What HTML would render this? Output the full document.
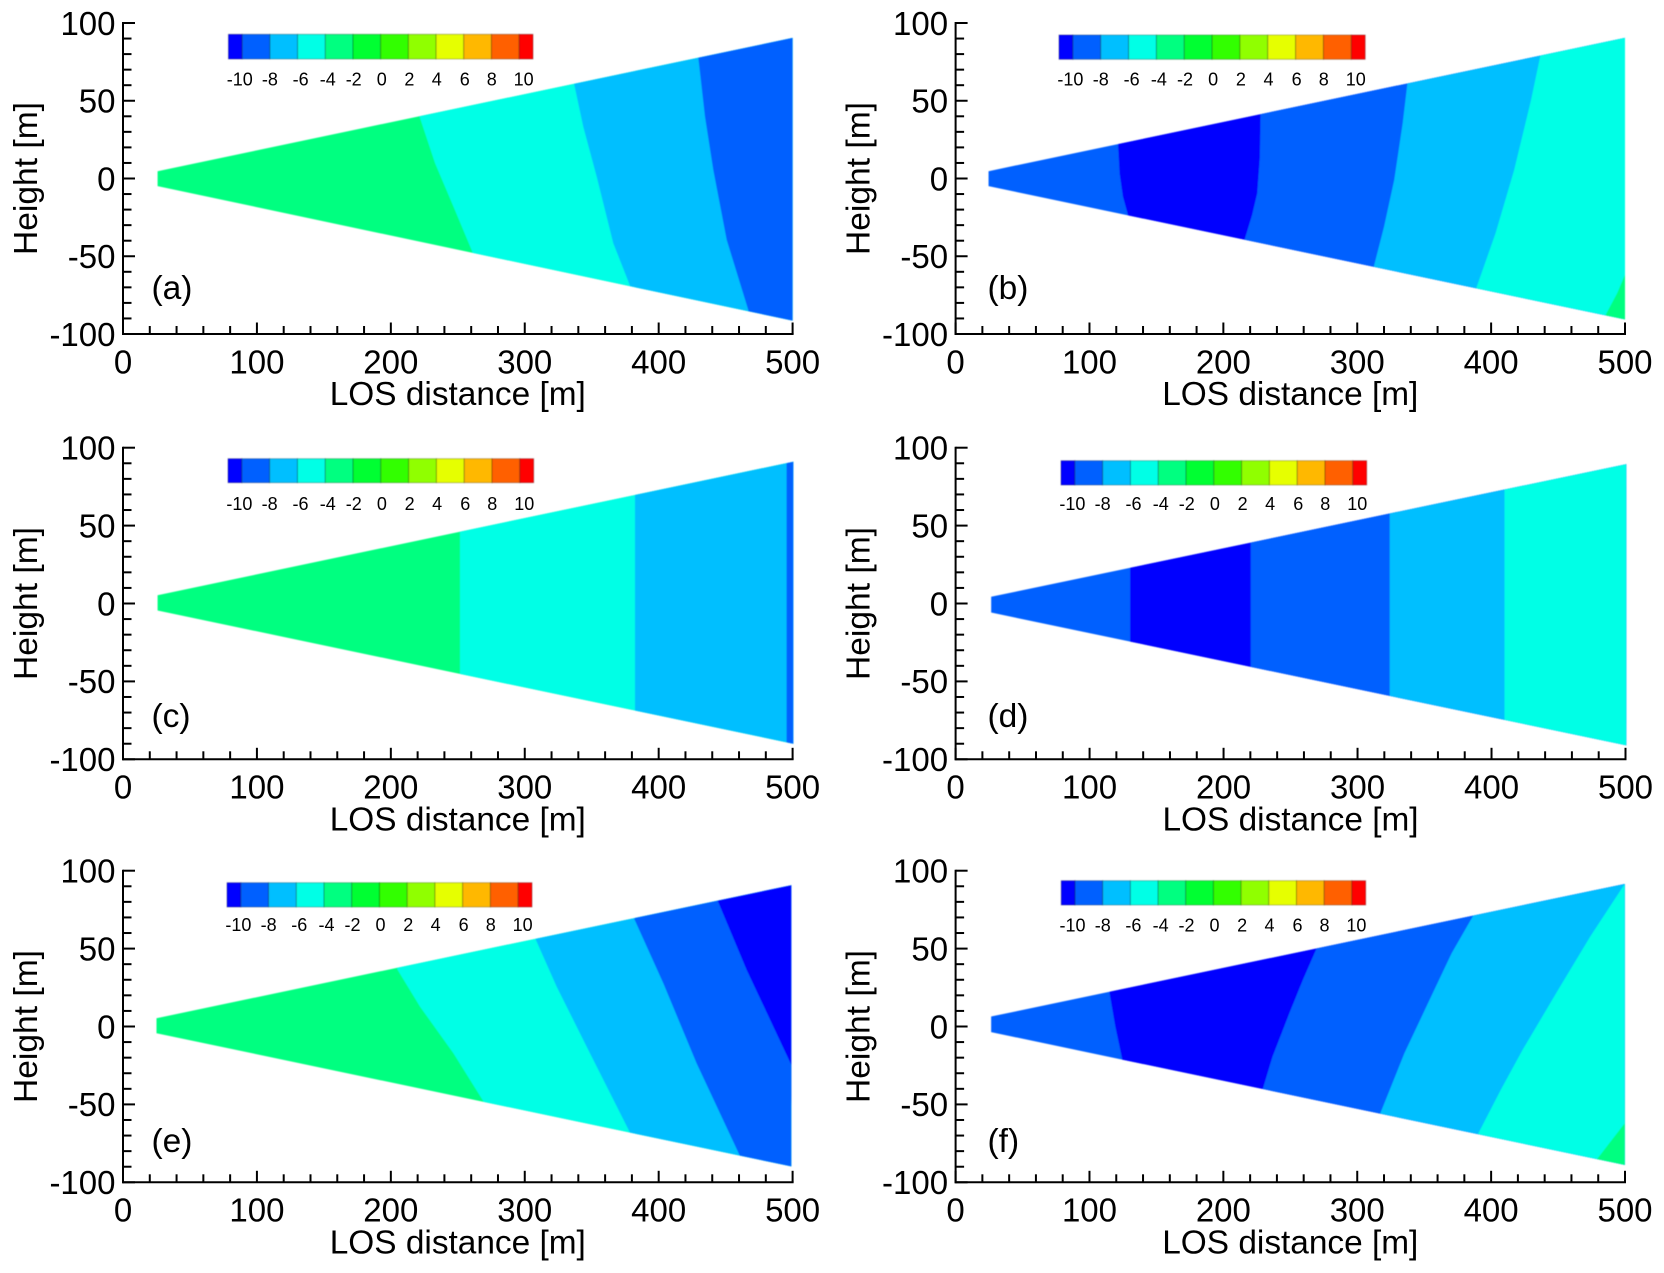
<!DOCTYPE html>
<html lang="en">
<head>
<meta charset="utf-8">
<title>LOS distance contour panels</title>
<style>
  html, body { margin: 0; padding: 0; background: #fff; }
  svg { display: block; }
  text { font-family: "Liberation Sans", sans-serif; fill: #000; }
</style>
</head>
<body>
<svg id="figure" xmlns="http://www.w3.org/2000/svg" width="1664" height="1273" viewBox="0 0 1664 1273">
  <defs>
    <filter id="soften" x="-2%" y="-2%" width="104%" height="104%"><feGaussianBlur stdDeviation="0.55"/></filter>
    <filter id="soften-bar" x="-2%" y="-10%" width="104%" height="120%"><feGaussianBlur stdDeviation="0.4"/></filter>
  </defs>
</svg>
<script>
// Axis ticks
const xMajorTicks = [0, 100, 200, 300, 400, 500];
const xMinorTicks = [20, 40, 60, 80, 120, 140, 160, 180, 220, 240, 260, 280, 320, 340, 360, 380, 420, 440, 460, 480];
const yMajorTicks = [-100, -50, 0, 50, 100];
const yMinorTicks = [-90, -80, -70, -60, -40, -30, -20, -10, 10, 20, 30, 40, 60, 70, 80, 90];

// Colour scale
const colorbarEdges = [-11, -10, -8, -6, -4, -2, 0, 2, 4, 6, 8, 10, 11];
const colorbarColors = ['#0000ff', '#0060ff', '#00bfff', '#00ffe6', '#00ff80', '#00ff30', '#30ff00', '#90ff00', '#e6ff00', '#ffb800', '#ff6000', '#ff0000'];
const colorbarLabels = [-10, -8, -6, -4, -2, 0, 2, 4, 6, 8, 10];

// Panel (a)
const aWedgeDistance = [25.8, 500];
const aWedgeTop = [4.7, 90.4];
const aWedgeBottom = [-4.9, -91.4];
const aBandValues = [-3, -5, -7, -9];
const aBoundaries = [
  [[221.3, 40.1], [233, 9.8], [246.7, -18], [260.8, -47]],
  [[336.8, 61.1], [343.7, 33.3], [353.7, 1.2], [366.1, -41.6], [378.6, -69]],
  [[429.6, 77.8], [434.6, 39.7], [440.8, 5.5], [450.8, -39.5], [467, -84.8]]
];

// Panel (b)
const bWedgeDistance = [24.6, 500];
const bWedgeTop = [4.7, 90.4];
const bWedgeBottom = [-4.9, -90.6];
const bBandValues = [-9, -10.5, -9, -7, -5, -3];
const bBoundaries = [
  [[121.3, 22.2], [122.5, 3.3], [125, -11.7], [128.6, -23]],
  [[227.8, 40.8], [227.3, 14], [225.3, -9.5], [221.5, -23.4], [216, -39]],
  [[337.4, 60.7], [333.9, 35.4], [327.6, -1], [320, -31], [312.4, -56.6]],
  [[436.7, 78.7], [429.8, 50.4], [417.2, 5.5], [403.3, -35.2], [388.9, -70.5]],
  [[500, -62], [494.2, -73.7], [485.6, -87.6]]
];

// Panel (c)
const cWedgeDistance = [25.8, 500.5];
const cWedgeTop = [5.3, 91];
const cWedgeBottom = [-4.5, -90];
const cBandValues = [-3, -5, -7, -9];
const cBoundaries = [
  [[251.6, 45.5], [251.6, -45.6]],
  [[382.3, 70], [382.3, -69]],
  [[495.5, 90.6], [495.5, -89]]
];

// Panel (d)
const dWedgeDistance = [26.5, 500.5];
const dWedgeTop = [4.3, 89.4];
const dWedgeBottom = [-5.8, -91];
const dBandValues = [-9, -10.5, -9, -7, -5];
const dBoundaries = [
  [[130.3, 23], [130.3, -24]],
  [[220.3, 38.5], [220.3, -40]],
  [[324, 57], [324, -59]],
  [[409.7, 72.7], [409.7, -74.5]]
];

// Panel (e)
const eWedgeDistance = [25, 499];
const eWedgeTop = [5.3, 90.7];
const eWedgeBottom = [-4.3, -89.8];
const eBandValues = [-3, -5, -7, -9, -10.5];
const eBoundaries = [
  [[204.8, 36.7], [221.8, 12.7], [246.7, -17.2], [269.6, -48.7]],
  [[308.1, 56], [323.8, 25.6], [346.2, -12.9], [379.1, -69]],
  [[381.8, 69], [403.5, 27.7], [428.3, -23.6], [460.7, -83.1]],
  [[444, 80.8], [465.7, 36.3], [499, -24.6]]
];

// Panel (f)
const fWedgeDistance = [26.5, 499.8];
const fWedgeTop = [6.4, 91.5];
const fWedgeBottom = [-3.6, -88.8];
const fBandValues = [-9, -10.5, -9, -7, -5, -3];
const fBoundaries = [
  [[115, 21.3], [119.3, -0.1], [124.3, -20.4]],
  [[269.5, 49.8], [259.4, 29.9], [249.3, 8.5], [236.7, -19.4], [229.6, -39.7]],
  [[386.9, 71.6], [370.5, 47], [352.8, 14.9], [335.2, -17.2], [317, -56.2]],
  [[499.8, 91.5], [474, 57.7], [450, 23.4], [423.5, -15], [407.1, -40.8], [390.2, -69]],
  [[499.8, -62.2], [489.2, -73.9], [479, -85.3]]
];

const panelSeries = [
  { id: 'a', distance: aWedgeDistance, top: aWedgeTop, bottom: aWedgeBottom, values: aBandValues, boundaries: aBoundaries },
  { id: 'b', distance: bWedgeDistance, top: bWedgeTop, bottom: bWedgeBottom, values: bBandValues, boundaries: bBoundaries },
  { id: 'c', distance: cWedgeDistance, top: cWedgeTop, bottom: cWedgeBottom, values: cBandValues, boundaries: cBoundaries },
  { id: 'd', distance: dWedgeDistance, top: dWedgeTop, bottom: dWedgeBottom, values: dBandValues, boundaries: dBoundaries },
  { id: 'e', distance: eWedgeDistance, top: eWedgeTop, bottom: eWedgeBottom, values: eBandValues, boundaries: eBoundaries },
  { id: 'f', distance: fWedgeDistance, top: fWedgeTop, bottom: fWedgeBottom, values: fBandValues, boundaries: fBoundaries }
];

// Page layout for each panel (pixels)
const panelLayout = {
  a: { left: 123, right: 792.6, top: 23, bottom: 334, barL: 228.4, barR: 533, barT: 34.3, barB: 59, barText: 85.5, tagX: 151.5, tagY: 299 },
  b: { left: 955.6, right: 1625, top: 23, bottom: 334, barL: 1059, barR: 1365.2, barT: 35, barB: 59.3, barText: 85.5, tagX: 987.5, tagY: 299 },
  c: { left: 123, right: 792.6, top: 447.7, bottom: 759.3, barL: 228, barR: 533.7, barT: 458.7, barB: 482.7, barText: 510, tagX: 151.5, tagY: 727 },
  d: { left: 955.6, right: 1625.5, top: 447.7, bottom: 759.3, barL: 1061, barR: 1366.7, barT: 460.7, barB: 485, barText: 510, tagX: 987.5, tagY: 727 },
  e: { left: 123, right: 792.6, top: 870.7, bottom: 1182.3, barL: 227, barR: 532, barT: 882.7, barB: 907, barText: 931, tagX: 151.5, tagY: 1152 },
  f: { left: 955.6, right: 1625, top: 870.7, bottom: 1182.3, barL: 1061.2, barR: 1365.7, barT: 880.7, barB: 905, barText: 931.5, tagX: 987.5, tagY: 1152 }
};
const colorbarLabelNudges = [-2.5, 0, 3, 2.5, 0.7, 1, 1, 0.7, 1, 0.3, 4.5];

const SVG_NS = 'http://www.w3.org/2000/svg';
const figure = document.getElementById('figure');
const figureDefs = figure.querySelector('defs');

function make(parent, tag, attrs) {
  const node = document.createElementNS(SVG_NS, tag);
  Object.keys(attrs).forEach(function (k) { node.setAttribute(k, attrs[k]); });
  parent.appendChild(node);
  return node;
}

function colorForValue(value) {
  for (let i = 0; i < colorbarColors.length; i++) {
    if (value >= colorbarEdges[i] && value < colorbarEdges[i + 1]) return colorbarColors[i];
  }
  return value < colorbarEdges[0] ? colorbarColors[0] : colorbarColors[colorbarColors.length - 1];
}

function drawPanel(series) {
  const box = panelLayout[series.id];
  const xScale = function (d) { return box.left + d / 500 * (box.right - box.left); };
  const yScale = function (h) { return box.bottom - (h + 100) / 200 * (box.bottom - box.top); };
  const barScale = function (v) {
    const lo = colorbarEdges[0];
    const hi = colorbarEdges[colorbarEdges.length - 1];
    return box.barL + (v - lo) / (hi - lo) * (box.barR - box.barL);
  };
  const toPoints = function (pts) {
    return pts.map(function (p) { return xScale(p[0]).toFixed(2) + ',' + yScale(p[1]).toFixed(2); }).join(' ');
  };

  const panel = make(figure, 'g', {});
  
  

  // Wedge clip outline
  const leftD = series.distance[0];
  const rightD = series.distance[1];
  const clipId = 'wedge-clip-' + series.id;
  const clip = make(figureDefs, 'clipPath', { id: clipId });
  make(clip, 'polygon', {
    points: toPoints([[leftD, series.top[0]], [rightD, series.top[1]], [rightD, series.bottom[1]], [leftD, series.bottom[0]]])
  });

  // Contour bands, painted left to right so that each covers the rest of the wedge
  const edges = [[[leftD, series.top[0]], [leftD, series.bottom[0]]]].concat(series.boundaries);
  const bandsOuter = make(panel, 'g', { filter: 'url(#soften)' });
  
  
  const bands = make(bandsOuter, 'g', { 'clip-path': 'url(#' + clipId + ')' });
  edges.forEach(function (edge, i) {
    const first = edge[0];
    const last = edge[edge.length - 1];
    const pts = [[first[0], first[1] + 20]].concat(edge, [[last[0], last[1] - 20]]);
    pts.push([rightD + 2, -120]);
    if (first[0] < rightD) pts.push([rightD + 2, 120]);
    const band = make(bands, 'polygon', { points: toPoints(pts), fill: colorForValue(series.values[i]) });
    
    
  });

  // Axes
  const xAxis = make(panel, 'g', { stroke: '#000', 'stroke-width': 2 });
  
  
  const xLine = make(xAxis, 'line', { x1: box.left - 1, x2: box.right + 1, y1: box.bottom, y2: box.bottom });
  
  
  xMajorTicks.forEach(function (t) {
    const tick = make(xAxis, 'line', { x1: xScale(t), x2: xScale(t), y1: box.bottom, y2: box.bottom - 11.5 });
    
    
    const label = make(panel, 'text', { x: xScale(t), y: box.bottom + 39.3, 'text-anchor': 'middle', 'font-size': 33 });
    
    
    label.textContent = String(t);
  });
  xMinorTicks.forEach(function (t) {
    const tick = make(xAxis, 'line', { x1: xScale(t), x2: xScale(t), y1: box.bottom, y2: box.bottom - 8 });
    
    
  });

  const yAxis = make(panel, 'g', { stroke: '#000', 'stroke-width': 2 });
  
  
  const yLine = make(yAxis, 'line', { x1: box.left, x2: box.left, y1: box.top - 1, y2: box.bottom + 1 });
  
  
  yMajorTicks.forEach(function (t) {
    const tick = make(yAxis, 'line', { x1: box.left, x2: box.left + 12, y1: yScale(t), y2: yScale(t) });
    
    
    const label = make(panel, 'text', { x: box.left - 7.5, y: yScale(t) + 11.8, 'text-anchor': 'end', 'font-size': 33 });
    
    
    label.textContent = String(t);
  });
  yMinorTicks.forEach(function (t) {
    const tick = make(yAxis, 'line', { x1: box.left, x2: box.left + 8.5, y1: yScale(t), y2: yScale(t) });
    
    
  });

  const xTitle = make(panel, 'text', { x: (box.left + box.right) / 2, y: box.bottom + 71, 'text-anchor': 'middle', 'font-size': 33.4 });
  
  
  xTitle.textContent = 'LOS distance [m]';

  const yTitleX = box.left - 86;
  const yTitleY = (box.top + box.bottom) / 2;
  const yTitle = make(panel, 'text', { x: yTitleX, y: yTitleY, 'text-anchor': 'middle', 'font-size': 33.6, transform: 'rotate(-90 ' + yTitleX + ' ' + yTitleY + ')' });
  
  
  yTitle.textContent = 'Height [m]';

  const tag = make(panel, 'text', { x: box.tagX, y: box.tagY, 'font-size': 33.5 });
  
  
  tag.textContent = '(' + series.id + ')';

  // Colour bar legend
  const legend = make(panel, 'g', {});
  
  
  const swatches = make(legend, 'g', { filter: 'url(#soften-bar)' });
  colorbarColors.forEach(function (color, i) {
    const swatch = make(swatches, 'rect', {
      x: barScale(colorbarEdges[i]), y: box.barT,
      width: barScale(colorbarEdges[i + 1]) - barScale(colorbarEdges[i]), height: box.barB - box.barT,
      fill: color, stroke: 'rgba(0,0,0,0.3)', 'stroke-width': 1
    });
    
    
  });
  colorbarLabels.forEach(function (v, i) {
    const label = make(legend, 'text', { x: barScale(v) + colorbarLabelNudges[i], y: box.barText, 'text-anchor': 'middle', 'font-size': 18 });
    
    
    label.textContent = String(v);
  });
}

panelSeries.forEach(drawPanel);
</script>
</body>
</html>
